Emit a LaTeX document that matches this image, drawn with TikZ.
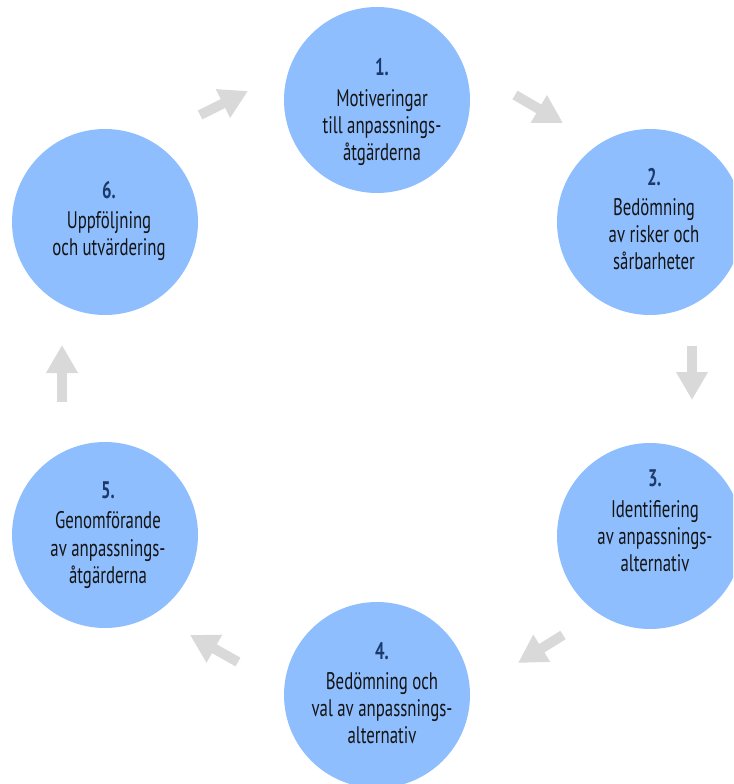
\documentclass[tikz,border=0pt]{standalone}
\usepackage{fontspec}
\setmainfont[FakeStretch=0.70]{PT Sans}
\usetikzlibrary{arrows.meta}
\definecolor{circfill}{HTML}{8FBEFF}
\definecolor{numblue}{HTML}{1B3A6B}
\definecolor{arrowgray}{HTML}{D9D9D9}
\definecolor{textdark}{HTML}{141414}
\begin{document}
\begin{tikzpicture}[x=0.75pt,y=-0.75pt,
  stage/.style={circle, fill=circfill, minimum size=139.5pt, inner sep=0pt},
  stagetext/.style={align=center, text=textdark, inner sep=0pt,
    font=\fontsize{18pt}{20.3pt}\selectfont},
  blockarrow/.style={draw=arrowgray, line width=7.5pt,
    -{Triangle[length=21pt,width=22.5pt]}}]
\useasboundingbox (0,0) rectangle (733,784);
\clip (0,0) rectangle (733,784);
\newcommand{\stagenum}[1]{{\bfseries\color{numblue}#1}\\[2.5pt]}

% the six stages of the cycle
\node[stage] (c1) at (377,100) {};
\node[stage] (c2) at (650,222) {};
\node[stage] (c3) at (650,536) {};
\node[stage] (c4) at (377,695) {};
\node[stage] (c5) at (105,535) {};
\node[stage] (c6) at (105,222) {};

\node[stagetext] (t1) at (382,112) {\stagenum{1.}Motiveringar\\till anpassnings-\\åtgärderna};
\node[stagetext] (t2) at (654,219) {\stagenum{2.}Bedömning\\av risker och\\sårbarheter};
\node[stagetext] (t3) at (655,521) {\stagenum{3.}Identifiering\\av anpassnings-\\alternativ};
\node[stagetext] (t4) at (382,693) {\stagenum{4.}Bedömning och\\val av anpassnings-\\alternativ};
\node[stagetext] (t5) at (108,535) {\stagenum{5.}Genomförande\\av anpassnings-\\åtgärderna};
\node[stagetext] (t6) at (109,221) {\stagenum{6.}Uppföljning\\och utvärdering};

% arrows between the stages
\coordinate (a61) at (200,115); \coordinate (b61) at (248,91);
\coordinate (a12) at (515,95);  \coordinate (b12) at (563,123);
\coordinate (a23) at (692,346); \coordinate (b23) at (692,400);
\coordinate (a34) at (563,635); \coordinate (b34) at (518,663);
\coordinate (a45) at (238,662); \coordinate (b45) at (190,635);
\coordinate (a56) at (62,402);  \coordinate (b56) at (62,345);
\foreach \p in {61,12,23,34,45,56}
  \draw[blockarrow] (a\p) -- (b\p);
\end{tikzpicture}
\end{document}
